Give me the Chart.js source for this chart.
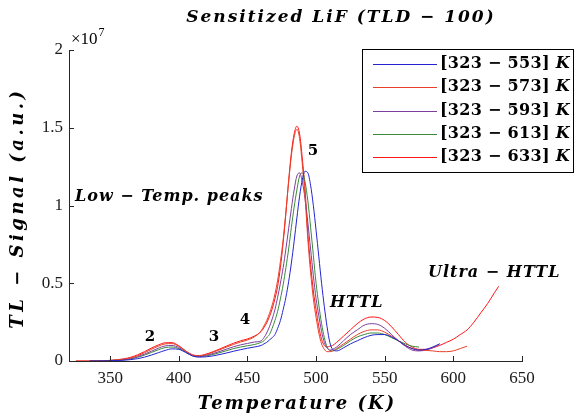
<!DOCTYPE html>
<html>
<head>
<meta charset="utf-8">
<script src="https://cdn.jsdelivr.net/npm/chart.js@4.4.1/dist/chart.umd.min.js"></script>
<style>
  html, body { margin: 0; padding: 0; background: #fff; }
  #wrap { width: 582px; height: 419px; position: relative; }
</style>
</head>
<body>
<div id="wrap"><canvas id="tl"></canvas></div>
<script>
// temperatures (K) shared by all glow curves
const temps = [
  325, 330, 335, 340, 345, 350, 355, 360, 365, 370, 375, 380, 385, 390, 395, 400, 405, 410, 415, 420, 425, 430, 435, 440, 445, 450, 455,
  460, 462, 464, 466, 468, 470, 472, 474, 476, 478, 480, 482, 484, 486, 488, 490, 492, 494, 496, 498, 500, 502, 504, 506, 508, 510, 512,
  515, 520, 525, 530, 535, 540, 545, 550, 555, 560, 565, 570, 575, 580, 585, 590, 595, 600, 605, 610, 615, 620, 625, 630, 633
];

// TL signal in units of 1e7 (a.u.)
const sig553 = [
  null, null, 0, 0, 0.001, 0.002, 0.003, 0.005, 0.009, 0.015, 0.025, 0.038, 0.053, 0.068, 0.078, 0.075, 0.055, 0.032, 0.025, 0.027, 0.033, 0.042, 0.052, 0.063, 0.073, 0.082, 0.09,
  0.1, 0.11, 0.12, 0.135, 0.15, 0.17, 0.21, 0.26, 0.33, 0.41, 0.51, 0.63, 0.77, 0.92, 1.06, 1.17, 1.22, 1.21, 1.13, 1.0, 0.84, 0.67, 0.5, 0.35, 0.22, 0.12, 0.075,
  0.065, 0.085, 0.11, 0.13, 0.15, 0.165, 0.17, 0.17, 0.155, 0.13, 0.1, 0.08, 0.07, 0.075, 0.09, 0.11, null, null, null, null, null, null, null, null, null
];
const sig573 = [
  0, 0, 0, 0.001, 0.002, 0.004, 0.007, 0.012, 0.02, 0.034, 0.053, 0.075, 0.095, 0.11, 0.112, 0.095, 0.064, 0.038, 0.033, 0.042, 0.056, 0.073, 0.09, 0.107, 0.122, 0.135, 0.155,
  0.195, 0.225, 0.26, 0.305, 0.36, 0.43, 0.52, 0.64, 0.78, 0.96, 1.15, 1.32, 1.44, 1.49, 1.43, 1.26, 1.05, 0.78, 0.57, 0.4, 0.28, 0.18, 0.11, 0.075, 0.06, 0.06, 0.065,
  0.08, 0.11, 0.14, 0.17, 0.19, 0.2, 0.2, 0.185, 0.16, 0.13, 0.1, 0.08, 0.07, 0.068, 0.065, 0.06, 0.06, 0.065, 0.08, 0.095, null, null, null, null, null
];
const sig593 = [
  null, null, 0, 0.001, 0.002, 0.003, 0.005, 0.009, 0.016, 0.028, 0.044, 0.063, 0.082, 0.097, 0.1, 0.087, 0.06, 0.036, 0.03, 0.037, 0.048, 0.062, 0.077, 0.092, 0.104, 0.113, 0.122,
  0.13, 0.15, 0.18, 0.22, 0.27, 0.33, 0.41, 0.5, 0.6, 0.72, 0.85, 0.98, 1.1, 1.19, 1.21, 1.15, 1.04, 0.89, 0.72, 0.55, 0.4, 0.29, 0.19, 0.12, 0.085, 0.07, 0.075,
  0.09, 0.13, 0.17, 0.2, 0.23, 0.24, 0.235, 0.21, 0.17, 0.13, 0.095, 0.07, 0.065, 0.07, 0.085, 0.11, null, null, null, null, null, null, null, null, null
];
const sig613 = [
  null, null, 0, 0.001, 0.002, 0.003, 0.005, 0.008, 0.014, 0.024, 0.038, 0.055, 0.072, 0.086, 0.09, 0.08, 0.057, 0.034, 0.028, 0.033, 0.042, 0.054, 0.067, 0.08, 0.09, 0.098, 0.106,
  0.12, 0.13, 0.15, 0.17, 0.21, 0.26, 0.32, 0.4, 0.49, 0.6, 0.72, 0.86, 0.99, 1.1, 1.19, 1.21, 1.15, 1.03, 0.86, 0.68, 0.5, 0.36, 0.24, 0.15, 0.09, 0.068, 0.065,
  0.075, 0.1, 0.13, 0.155, 0.17, 0.18, 0.18, 0.17, 0.15, 0.13, 0.11, 0.095, 0.09, null, null, null, null, null, null, null, null, null, null, null, null
];
const sig633 = [
  0, 0, 0, 0.001, 0.002, 0.004, 0.008, 0.014, 0.024, 0.04, 0.06, 0.083, 0.103, 0.117, 0.118, 0.098, 0.065, 0.04, 0.035, 0.045, 0.06, 0.078, 0.097, 0.115, 0.13, 0.142, 0.16,
  0.19, 0.215, 0.245, 0.285, 0.335, 0.4, 0.48, 0.6, 0.76, 0.95, 1.16, 1.34, 1.46, 1.51, 1.46, 1.3, 1.1, 0.82, 0.62, 0.45, 0.33, 0.22, 0.14, 0.1, 0.09, 0.095, 0.1,
  0.12, 0.16, 0.2, 0.24, 0.27, 0.283, 0.28, 0.26, 0.22, 0.17, 0.12, 0.09, 0.075, 0.075, 0.085, 0.1, 0.12, 0.14, 0.17, 0.2, 0.25, 0.31, 0.37, 0.44, 0.48
];

const seriesNames = ["[323 \u2212 553] ", "[323 \u2212 573] ", "[323 \u2212 593] ", "[323 \u2212 613] ", "[323 \u2212 633] "];
const seriesColors = ["#2424d0", "#e8402a", "#7d3f9e", "#3a8a3a", "#ff1414"];
const seriesData = [sig553, sig573, sig593, sig613, sig633];

const xTicks = [350, 400, 450, 500, 550, 600, 650];
const yTicks = [0, 0.5, 1, 1.5, 2];

const MATH = "'DejaVu Serif'";
const NUM = "'Liberation Serif'";

function points(vals) {
  const out = [];
  temps.forEach((t, i) => { if (vals[i] !== null) out.push({ x: t, y: vals[i] }); });
  return out;
}

/* ========= extra drawing: inward ticks, titles, notes, legend ========= */
const decorations = {
  id: "decorations",
  afterDraw(chart) {
    const { ctx, chartArea: a, scales: { x, y } } = chart;
    ctx.save();
    ctx.strokeStyle = "#262626";
    ctx.lineWidth = 1;
    ctx.beginPath();
    xTicks.forEach(v => {
      const px = Math.round(x.getPixelForValue(v)) + 0.5;
      ctx.moveTo(px, a.bottom); ctx.lineTo(px, a.bottom - 5);
    });
    yTicks.forEach(v => {
      const py = Math.round(y.getPixelForValue(v)) + 0.5;
      ctx.moveTo(a.left, py); ctx.lineTo(a.left + 5, py);
    });
    ctx.stroke();

    ctx.fillStyle = "#000";
    // x10^7 multiplier
    ctx.textBaseline = "alphabetic";
    ctx.textAlign = "left";
    ctx.font = "17px " + NUM;
    ctx.fillText("\u00d710", a.left + 2, a.top - 6);
    const w10 = ctx.measureText("\u00d710").width;
    ctx.font = "12px " + NUM;
    ctx.fillText("7", a.left + 3 + w10, a.top - 14);

    // title
    ctx.textBaseline = "middle";
    ctx.textAlign = "center";
    ctx.letterSpacing = "2px";
    ctx.font = "italic bold 17px " + MATH;
    ctx.fillText("Sensitized LiF (TLD \u2212 100)", 341, 18);

    // axis titles
    ctx.font = "italic bold 18px " + MATH;
    ctx.fillText("Temperature (K)", 297, 404);
    ctx.save();
    ctx.translate(18, 208);
    ctx.rotate(-Math.PI / 2);
    ctx.letterSpacing = "3.5px";
    ctx.fillText("TL \u2212 Signal (a.u.)", 0, 0);
    ctx.restore();

    // annotations
    ctx.letterSpacing = "1px";
    ctx.font = "italic bold 16px " + MATH;
    ctx.textAlign = "left";
    ctx.fillText("Low \u2212 Temp. peaks", 75, 197);
    ctx.fillText("HTTL", 330, 303);
    ctx.fillText("Ultra \u2212 HTTL", 428, 273);
    ctx.letterSpacing = "0px";
    ctx.textAlign = "center";
    ctx.font = "bold 15px " + MATH;
    ctx.fillText("2", 150, 337);
    ctx.fillText("3", 214, 337);
    ctx.fillText("4", 245, 320);
    ctx.fillText("5", 313, 151);

    // legend box
    ctx.fillStyle = "#fff";
    ctx.fillRect(362, 49, 211, 123);
    ctx.strokeStyle = "#000";
    ctx.strokeRect(362.5, 49.5, 211, 123);
    const rows = [64, 87, 111, 134, 157];
    ctx.letterSpacing = "0.3px";
    seriesNames.forEach((name, i) => {
      ctx.strokeStyle = seriesColors[i];
      ctx.lineWidth = 1;
      ctx.beginPath();
      ctx.moveTo(373, rows[i] + 0.5); ctx.lineTo(437, rows[i] + 0.5);
      ctx.stroke();
      ctx.fillStyle = "#000";
      ctx.textAlign = "left";
      ctx.font = "bold 16px " + MATH;
      ctx.fillText(name, 440, rows[i]);
      const wn = ctx.measureText(name).width;
      ctx.font = "italic bold 16px " + MATH;
      ctx.fillText("K", 440 + wn, rows[i]);
    });
    ctx.restore();
  }
};

new Chart(document.getElementById("tl"), {
  type: "line",
  data: {
    datasets: seriesData.map((vals, i) => ({
      label: seriesNames[i] + "K",
      data: points(vals),
      borderColor: seriesColors[i],
      borderWidth: 1,
      pointRadius: 0,
      fill: false,
      cubicInterpolationMode: "monotone"
    }))
  },
  options: {
    responsive: true,
    maintainAspectRatio: false,
    animation: false,
    devicePixelRatio: 1,
    layout: { padding: { left: 0, top: 50, right: 60, bottom: 0 } },
    plugins: { legend: { display: false }, tooltip: { enabled: false } },
    scales: {
      x: {
        type: "linear",
        min: 320,
        max: 650,
        afterBuildTicks: s => { s.ticks = xTicks.map(v => ({ value: v })); },
        afterFit: s => { s.height = 58; },
        grid: { display: false, drawTicks: false },
        border: { display: true, color: "#262626", width: 1 },
        ticks: { color: "#1a1a1a", padding: 7, font: { family: "Liberation Serif", size: 17 }, callback: v => String(v) }
      },
      y: {
        min: 0,
        max: 2,
        afterBuildTicks: s => { s.ticks = yTicks.map(v => ({ value: v })); },
        afterFit: s => { s.width = 69; },
        grid: { display: false, drawTicks: false },
        border: { display: true, color: "#262626", width: 1 },
        ticks: { color: "#1a1a1a", padding: 6, font: { family: "Liberation Serif", size: 17 }, callback: v => String(v) }
      }
    }
  },
  plugins: [decorations]
});
</script>
</body>
</html>
